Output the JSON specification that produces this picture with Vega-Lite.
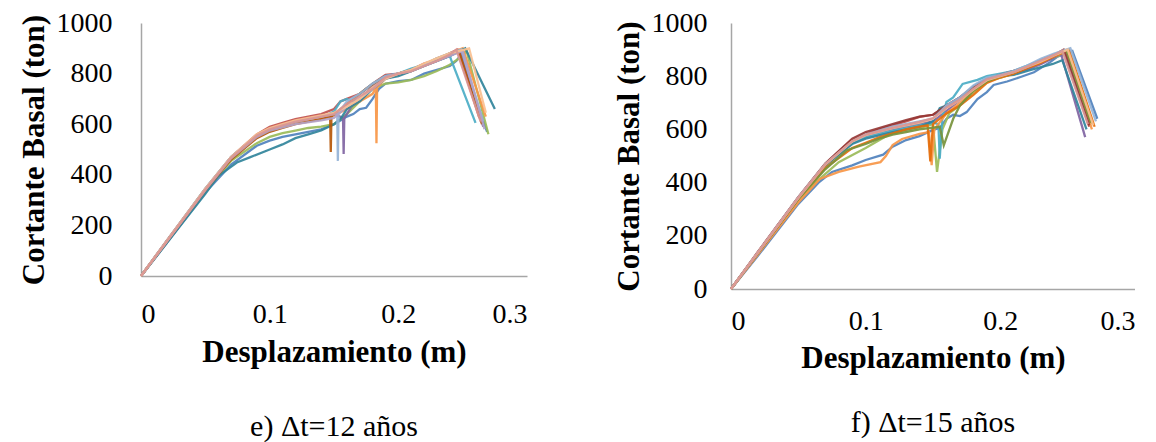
{
"$schema": "https://vega.github.io/schema/vega-lite/v6.json",
"padding": {"left": 17, "top": 9, "right": 0, "bottom": 0},
"background": "white",
"config": {
  "font": "Liberation Serif",
  "view": {"stroke": null},
  "axis": {"grid": false, "ticks": false, "domainColor": "#A6A6A6", "domainWidth": 1.5, "labelFont": "Liberation Serif", "labelFontSize": 28, "labelColor": "#000000", "titleFont": "Liberation Serif", "titleFontSize": 31, "titleFontWeight": "bold", "titleColor": "#000000"},
  "line": {"strokeWidth": 2.3, "opacity": 0.92},
  "concat": {"spacing": 85}
},
"resolve": {"scale": {"color": "independent"}},
"datasets": {
"e": [
{"s":"01","x":0,"y":0},{"s":"01","x":0.02,"y":130},{"s":"01","x":0.05,"y":330},{"s":"01","x":0.07,"y":440},{"s":"01","x":0.09,"y":515},{"s":"01","x":0.1,"y":535},{"s":"01","x":0.11,"y":550},{"s":"01","x":0.12,"y":560},{"s":"01","x":0.13,"y":570},{"s":"01","x":0.14,"y":580},{"s":"01","x":0.15,"y":600},{"s":"01","x":0.155,"y":615},{"s":"01","x":0.16,"y":630},{"s":"01","x":0.165,"y":640},{"s":"01","x":0.17,"y":660},{"s":"01","x":0.175,"y":665},{"s":"01","x":0.18,"y":700},{"s":"01","x":0.185,"y":740},{"s":"01","x":0.19,"y":760},{"s":"01","x":0.2,"y":770},{"s":"01","x":0.21,"y":775},{"s":"01","x":0.22,"y":800},{"s":"01","x":0.23,"y":815},{"s":"01","x":0.24,"y":830},{"s":"01","x":0.245,"y":850},{"s":"01","x":0.248,"y":870},{"s":"01","x":0.269,"y":570},
{"s":"02","x":0,"y":0},{"s":"02","x":0.02,"y":140},{"s":"02","x":0.05,"y":345},{"s":"02","x":0.07,"y":470},{"s":"02","x":0.09,"y":560},{"s":"02","x":0.1,"y":590},{"s":"02","x":0.11,"y":605},{"s":"02","x":0.12,"y":620},{"s":"02","x":0.13,"y":630},{"s":"02","x":0.14,"y":640},{"s":"02","x":0.15,"y":660},{"s":"02","x":0.155,"y":690},{"s":"02","x":0.16,"y":700},{"s":"02","x":0.17,"y":720},{"s":"02","x":0.18,"y":760},{"s":"02","x":0.19,"y":795},{"s":"02","x":0.2,"y":800},{"s":"02","x":0.21,"y":815},{"s":"02","x":0.22,"y":840},{"s":"02","x":0.23,"y":855},{"s":"02","x":0.24,"y":880},{"s":"02","x":0.246,"y":895},{"s":"02","x":0.263,"y":625},
{"s":"03","x":0,"y":0},{"s":"03","x":0.05,"y":335},{"s":"03","x":0.07,"y":455},{"s":"03","x":0.09,"y":525},{"s":"03","x":0.1,"y":550},{"s":"03","x":0.11,"y":565},{"s":"03","x":0.12,"y":575},{"s":"03","x":0.13,"y":585},{"s":"03","x":0.14,"y":590},{"s":"03","x":0.15,"y":600},{"s":"03","x":0.16,"y":640},{"s":"03","x":0.17,"y":690},{"s":"03","x":0.18,"y":740},{"s":"03","x":0.19,"y":760},{"s":"03","x":0.2,"y":765},{"s":"03","x":0.21,"y":775},{"s":"03","x":0.22,"y":790},{"s":"03","x":0.23,"y":810},{"s":"03","x":0.24,"y":835},{"s":"03","x":0.25,"y":870},{"s":"03","x":0.253,"y":890},{"s":"03","x":0.27,"y":560},
{"s":"04","x":0,"y":0},{"s":"04","x":0.05,"y":340},{"s":"04","x":0.07,"y":465},{"s":"04","x":0.09,"y":555},{"s":"04","x":0.1,"y":580},{"s":"04","x":0.11,"y":595},{"s":"04","x":0.12,"y":610},{"s":"04","x":0.13,"y":620},{"s":"04","x":0.14,"y":630},{"s":"04","x":0.15,"y":640},{"s":"04","x":0.157,"y":625},{"s":"04","x":0.1575,"y":482},{"s":"04","x":0.158,"y":625},{"s":"04","x":0.165,"y":680},{"s":"04","x":0.17,"y":700},{"s":"04","x":0.18,"y":750},{"s":"04","x":0.19,"y":790},{"s":"04","x":0.2,"y":800},{"s":"04","x":0.21,"y":810},{"s":"04","x":0.22,"y":830},{"s":"04","x":0.23,"y":850},{"s":"04","x":0.24,"y":870},{"s":"04","x":0.248,"y":890},{"s":"04","x":0.266,"y":590},
{"s":"05","x":0,"y":0},{"s":"05","x":0.05,"y":345},{"s":"05","x":0.07,"y":470},{"s":"05","x":0.09,"y":555},{"s":"05","x":0.1,"y":575},{"s":"05","x":0.12,"y":605},{"s":"05","x":0.14,"y":625},{"s":"05","x":0.15,"y":650},{"s":"05","x":0.155,"y":690},{"s":"05","x":0.16,"y":700},{"s":"05","x":0.165,"y":690},{"s":"05","x":0.17,"y":720},{"s":"05","x":0.18,"y":760},{"s":"05","x":0.19,"y":790},{"s":"05","x":0.2,"y":800},{"s":"05","x":0.21,"y":820},{"s":"05","x":0.22,"y":835},{"s":"05","x":0.23,"y":860},{"s":"05","x":0.24,"y":870},{"s":"05","x":0.241,"y":855},{"s":"05","x":0.26,"y":605},
{"s":"06","x":0,"y":0},{"s":"06","x":0.05,"y":340},{"s":"06","x":0.07,"y":465},{"s":"06","x":0.09,"y":550},{"s":"06","x":0.1,"y":575},{"s":"06","x":0.11,"y":590},{"s":"06","x":0.12,"y":605},{"s":"06","x":0.13,"y":615},{"s":"06","x":0.14,"y":625},{"s":"06","x":0.15,"y":635},{"s":"06","x":0.16,"y":660},{"s":"06","x":0.17,"y":690},{"s":"06","x":0.18,"y":720},{"s":"06","x":0.1825,"y":745},{"s":"06","x":0.183,"y":525},{"s":"06","x":0.1835,"y":745},{"s":"06","x":0.19,"y":780},{"s":"06","x":0.2,"y":795},{"s":"06","x":0.21,"y":810},{"s":"06","x":0.22,"y":835},{"s":"06","x":0.23,"y":860},{"s":"06","x":0.24,"y":880},{"s":"06","x":0.25,"y":900},{"s":"06","x":0.268,"y":630},
{"s":"07","x":0,"y":0},{"s":"07","x":0.02,"y":130},{"s":"07","x":0.05,"y":325},{"s":"07","x":0.06,"y":395},{"s":"07","x":0.075,"y":450},{"s":"07","x":0.085,"y":470},{"s":"07","x":0.1,"y":500},{"s":"07","x":0.11,"y":520},{"s":"07","x":0.12,"y":545},{"s":"07","x":0.13,"y":560},{"s":"07","x":0.14,"y":575},{"s":"07","x":0.15,"y":600},{"s":"07","x":0.155,"y":620},{"s":"07","x":0.16,"y":660},{"s":"07","x":0.17,"y":690},{"s":"07","x":0.18,"y":740},{"s":"07","x":0.19,"y":780},{"s":"07","x":0.2,"y":790},{"s":"07","x":0.21,"y":810},{"s":"07","x":0.22,"y":830},{"s":"07","x":0.23,"y":850},{"s":"07","x":0.24,"y":870},{"s":"07","x":0.252,"y":900},{"s":"07","x":0.275,"y":660},
{"s":"08","x":0,"y":0},{"s":"08","x":0.05,"y":340},{"s":"08","x":0.07,"y":460},{"s":"08","x":0.09,"y":545},{"s":"08","x":0.1,"y":570},{"s":"08","x":0.11,"y":585},{"s":"08","x":0.12,"y":600},{"s":"08","x":0.13,"y":610},{"s":"08","x":0.14,"y":620},{"s":"08","x":0.147,"y":630},{"s":"08","x":0.1475,"y":490},{"s":"08","x":0.148,"y":630},{"s":"08","x":0.155,"y":660},{"s":"08","x":0.165,"y":700},{"s":"08","x":0.175,"y":740},{"s":"08","x":0.185,"y":775},{"s":"08","x":0.2,"y":800},{"s":"08","x":0.21,"y":815},{"s":"08","x":0.22,"y":835},{"s":"08","x":0.23,"y":855},{"s":"08","x":0.24,"y":875},{"s":"08","x":0.247,"y":890},{"s":"08","x":0.265,"y":600},
{"s":"09","x":0,"y":0},{"s":"09","x":0.05,"y":345},{"s":"09","x":0.07,"y":470},{"s":"09","x":0.09,"y":555},{"s":"09","x":0.1,"y":580},{"s":"09","x":0.11,"y":595},{"s":"09","x":0.12,"y":610},{"s":"09","x":0.13,"y":620},{"s":"09","x":0.14,"y":630},{"s":"09","x":0.15,"y":640},{"s":"09","x":0.1525,"y":640},{"s":"09","x":0.153,"y":455},{"s":"09","x":0.1535,"y":645},{"s":"09","x":0.16,"y":690},{"s":"09","x":0.17,"y":720},{"s":"09","x":0.18,"y":760},{"s":"09","x":0.19,"y":790},{"s":"09","x":0.2,"y":800},{"s":"09","x":0.21,"y":815},{"s":"09","x":0.22,"y":835},{"s":"09","x":0.23,"y":860},{"s":"09","x":0.24,"y":880},{"s":"09","x":0.249,"y":895},{"s":"09","x":0.266,"y":610},
{"s":"10","x":0,"y":0},{"s":"10","x":0.05,"y":340},{"s":"10","x":0.07,"y":465},{"s":"10","x":0.09,"y":550},{"s":"10","x":0.1,"y":575},{"s":"10","x":0.12,"y":600},{"s":"10","x":0.14,"y":615},{"s":"10","x":0.15,"y":625},{"s":"10","x":0.16,"y":670},{"s":"10","x":0.17,"y":700},{"s":"10","x":0.18,"y":740},{"s":"10","x":0.19,"y":780},{"s":"10","x":0.2,"y":800},{"s":"10","x":0.21,"y":810},{"s":"10","x":0.22,"y":830},{"s":"10","x":0.23,"y":850},{"s":"10","x":0.24,"y":870},{"s":"10","x":0.25,"y":890},{"s":"10","x":0.267,"y":580},
{"s":"11","x":0,"y":0},{"s":"11","x":0.05,"y":345},{"s":"11","x":0.07,"y":470},{"s":"11","x":0.09,"y":560},{"s":"11","x":0.1,"y":585},{"s":"11","x":0.11,"y":600},{"s":"11","x":0.12,"y":615},{"s":"11","x":0.13,"y":625},{"s":"11","x":0.14,"y":635},{"s":"11","x":0.15,"y":645},{"s":"11","x":0.16,"y":670},{"s":"11","x":0.17,"y":700},{"s":"11","x":0.18,"y":745},{"s":"11","x":0.19,"y":780},{"s":"11","x":0.2,"y":800},{"s":"11","x":0.21,"y":815},{"s":"11","x":0.22,"y":840},{"s":"11","x":0.23,"y":860},{"s":"11","x":0.24,"y":880},{"s":"11","x":0.255,"y":900},{"s":"11","x":0.268,"y":645},
{"s":"12","x":0,"y":0},{"s":"12","x":0.05,"y":342},{"s":"12","x":0.07,"y":468},{"s":"12","x":0.09,"y":555},{"s":"12","x":0.1,"y":580},{"s":"12","x":0.11,"y":595},{"s":"12","x":0.12,"y":610},{"s":"12","x":0.13,"y":620},{"s":"12","x":0.14,"y":630},{"s":"12","x":0.15,"y":640},{"s":"12","x":0.16,"y":680},{"s":"12","x":0.17,"y":710},{"s":"12","x":0.18,"y":740},{"s":"12","x":0.19,"y":785},{"s":"12","x":0.2,"y":800},{"s":"12","x":0.21,"y":810},{"s":"12","x":0.22,"y":830},{"s":"12","x":0.23,"y":850},{"s":"12","x":0.24,"y":875},{"s":"12","x":0.245,"y":895},{"s":"12","x":0.264,"y":610}
],
"f": [
{"s":"01","x":0,"y":0},{"s":"01","x":0.02,"y":125},{"s":"01","x":0.05,"y":320},{"s":"01","x":0.065,"y":400},{"s":"01","x":0.075,"y":440},{"s":"01","x":0.09,"y":465},{"s":"01","x":0.1,"y":485},{"s":"01","x":0.113,"y":505},{"s":"01","x":0.12,"y":535},{"s":"01","x":0.13,"y":560},{"s":"01","x":0.14,"y":575},{"s":"01","x":0.15,"y":598},{"s":"01","x":0.155,"y":605},{"s":"01","x":0.16,"y":640},{"s":"01","x":0.165,"y":655},{"s":"01","x":0.17,"y":650},{"s":"01","x":0.175,"y":665},{"s":"01","x":0.183,"y":714},{"s":"01","x":0.19,"y":740},{"s":"01","x":0.195,"y":767},{"s":"01","x":0.205,"y":780},{"s":"01","x":0.215,"y":797},{"s":"01","x":0.225,"y":815},{"s":"01","x":0.237,"y":853},{"s":"01","x":0.242,"y":872},{"s":"01","x":0.2535,"y":895},{"s":"01","x":0.272,"y":640},
{"s":"02","x":0,"y":0},{"s":"02","x":0.02,"y":140},{"s":"02","x":0.05,"y":345},{"s":"02","x":0.07,"y":470},{"s":"02","x":0.088,"y":553},{"s":"02","x":0.1,"y":580},{"s":"02","x":0.11,"y":600},{"s":"02","x":0.12,"y":615},{"s":"02","x":0.13,"y":630},{"s":"02","x":0.14,"y":647},{"s":"02","x":0.15,"y":655},{"s":"02","x":0.155,"y":670},{"s":"02","x":0.16,"y":690},{"s":"02","x":0.17,"y":720},{"s":"02","x":0.18,"y":760},{"s":"02","x":0.19,"y":790},{"s":"02","x":0.2,"y":800},{"s":"02","x":0.21,"y":815},{"s":"02","x":0.22,"y":830},{"s":"02","x":0.23,"y":855},{"s":"02","x":0.24,"y":875},{"s":"02","x":0.248,"y":895},{"s":"02","x":0.266,"y":610},
{"s":"03","x":0,"y":0},{"s":"03","x":0.05,"y":335},{"s":"03","x":0.065,"y":410},{"s":"03","x":0.08,"y":477},{"s":"03","x":0.1,"y":530},{"s":"03","x":0.118,"y":583},{"s":"03","x":0.13,"y":595},{"s":"03","x":0.143,"y":609},{"s":"03","x":0.15,"y":620},{"s":"03","x":0.153,"y":440},{"s":"03","x":0.157,"y":600},{"s":"03","x":0.162,"y":660},{"s":"03","x":0.17,"y":690},{"s":"03","x":0.18,"y":740},{"s":"03","x":0.19,"y":780},{"s":"03","x":0.2,"y":795},{"s":"03","x":0.21,"y":810},{"s":"03","x":0.22,"y":830},{"s":"03","x":0.23,"y":850},{"s":"03","x":0.24,"y":870},{"s":"03","x":0.25,"y":890},{"s":"03","x":0.268,"y":620},
{"s":"04","x":0,"y":0},{"s":"04","x":0.05,"y":340},{"s":"04","x":0.07,"y":465},{"s":"04","x":0.09,"y":550},{"s":"04","x":0.1,"y":575},{"s":"04","x":0.11,"y":590},{"s":"04","x":0.12,"y":600},{"s":"04","x":0.13,"y":610},{"s":"04","x":0.14,"y":620},{"s":"04","x":0.15,"y":630},{"s":"04","x":0.16,"y":670},{"s":"04","x":0.17,"y":710},{"s":"04","x":0.18,"y":750},{"s":"04","x":0.19,"y":785},{"s":"04","x":0.2,"y":800},{"s":"04","x":0.21,"y":810},{"s":"04","x":0.22,"y":825},{"s":"04","x":0.23,"y":845},{"s":"04","x":0.24,"y":870},{"s":"04","x":0.245,"y":885},{"s":"04","x":0.263,"y":571},
{"s":"05","x":0,"y":0},{"s":"05","x":0.05,"y":340},{"s":"05","x":0.07,"y":465},{"s":"05","x":0.09,"y":550},{"s":"05","x":0.1,"y":570},{"s":"05","x":0.12,"y":595},{"s":"05","x":0.14,"y":615},{"s":"05","x":0.15,"y":625},{"s":"05","x":0.154,"y":620},{"s":"05","x":0.155,"y":490},{"s":"05","x":0.157,"y":650},{"s":"05","x":0.16,"y":703},{"s":"05","x":0.165,"y":720},{"s":"05","x":0.172,"y":771},{"s":"05","x":0.183,"y":786},{"s":"05","x":0.19,"y":800},{"s":"05","x":0.2,"y":810},{"s":"05","x":0.21,"y":820},{"s":"05","x":0.22,"y":840},{"s":"05","x":0.23,"y":860},{"s":"05","x":0.24,"y":880},{"s":"05","x":0.247,"y":893},{"s":"05","x":0.265,"y":630},
{"s":"06","x":0,"y":0},{"s":"06","x":0.02,"y":130},{"s":"06","x":0.05,"y":325},{"s":"06","x":0.066,"y":414},{"s":"06","x":0.08,"y":440},{"s":"06","x":0.095,"y":460},{"s":"06","x":0.111,"y":477},{"s":"06","x":0.115,"y":500},{"s":"06","x":0.12,"y":541},{"s":"06","x":0.127,"y":564},{"s":"06","x":0.14,"y":583},{"s":"06","x":0.147,"y":590},{"s":"06","x":0.149,"y":466},{"s":"06","x":0.151,"y":600},{"s":"06","x":0.16,"y":660},{"s":"06","x":0.17,"y":700},{"s":"06","x":0.18,"y":745},{"s":"06","x":0.19,"y":780},{"s":"06","x":0.2,"y":800},{"s":"06","x":0.21,"y":815},{"s":"06","x":0.22,"y":835},{"s":"06","x":0.23,"y":855},{"s":"06","x":0.24,"y":875},{"s":"06","x":0.25,"y":895},{"s":"06","x":0.268,"y":600},
{"s":"07","x":0,"y":0},{"s":"07","x":0.05,"y":340},{"s":"07","x":0.07,"y":465},{"s":"07","x":0.09,"y":545},{"s":"07","x":0.1,"y":565},{"s":"07","x":0.12,"y":590},{"s":"07","x":0.14,"y":610},{"s":"07","x":0.15,"y":630},{"s":"07","x":0.155,"y":680},{"s":"07","x":0.165,"y":700},{"s":"07","x":0.18,"y":760},{"s":"07","x":0.19,"y":790},{"s":"07","x":0.2,"y":800},{"s":"07","x":0.21,"y":805},{"s":"07","x":0.222,"y":823},{"s":"07","x":0.239,"y":846},{"s":"07","x":0.246,"y":860},{"s":"07","x":0.264,"y":600},
{"s":"08","x":0,"y":0},{"s":"08","x":0.05,"y":338},{"s":"08","x":0.07,"y":455},{"s":"08","x":0.09,"y":530},{"s":"08","x":0.1,"y":550},{"s":"08","x":0.11,"y":570},{"s":"08","x":0.12,"y":585},{"s":"08","x":0.13,"y":600},{"s":"08","x":0.14,"y":610},{"s":"08","x":0.146,"y":615},{"s":"08","x":0.148,"y":480},{"s":"08","x":0.15,"y":620},{"s":"08","x":0.16,"y":660},{"s":"08","x":0.17,"y":690},{"s":"08","x":0.18,"y":730},{"s":"08","x":0.19,"y":775},{"s":"08","x":0.2,"y":795},{"s":"08","x":0.21,"y":810},{"s":"08","x":0.22,"y":830},{"s":"08","x":0.23,"y":850},{"s":"08","x":0.24,"y":875},{"s":"08","x":0.251,"y":900},{"s":"08","x":0.27,"y":610},
{"s":"09","x":0,"y":0},{"s":"09","x":0.05,"y":338},{"s":"09","x":0.07,"y":450},{"s":"09","x":0.086,"y":522},{"s":"09","x":0.1,"y":545},{"s":"09","x":0.11,"y":565},{"s":"09","x":0.12,"y":580},{"s":"09","x":0.13,"y":590},{"s":"09","x":0.14,"y":600},{"s":"09","x":0.155,"y":610},{"s":"09","x":0.158,"y":540},{"s":"09","x":0.165,"y":640},{"s":"09","x":0.17,"y":690},{"s":"09","x":0.18,"y":745},{"s":"09","x":0.19,"y":780},{"s":"09","x":0.2,"y":800},{"s":"09","x":0.21,"y":815},{"s":"09","x":0.22,"y":835},{"s":"09","x":0.23,"y":860},{"s":"09","x":0.24,"y":880},{"s":"09","x":0.249,"y":897},{"s":"09","x":0.267,"y":625},
{"s":"10","x":0,"y":0},{"s":"10","x":0.05,"y":345},{"s":"10","x":0.07,"y":472},{"s":"10","x":0.09,"y":565},{"s":"10","x":0.1,"y":590},{"s":"10","x":0.11,"y":605},{"s":"10","x":0.12,"y":620},{"s":"10","x":0.13,"y":635},{"s":"10","x":0.14,"y":648},{"s":"10","x":0.15,"y":655},{"s":"10","x":0.16,"y":690},{"s":"10","x":0.17,"y":720},{"s":"10","x":0.18,"y":760},{"s":"10","x":0.19,"y":790},{"s":"10","x":0.2,"y":805},{"s":"10","x":0.21,"y":820},{"s":"10","x":0.22,"y":835},{"s":"10","x":0.23,"y":860},{"s":"10","x":0.24,"y":880},{"s":"10","x":0.247,"y":900},{"s":"10","x":0.266,"y":615},
{"s":"11","x":0,"y":0},{"s":"11","x":0.05,"y":345},{"s":"11","x":0.07,"y":470},{"s":"11","x":0.09,"y":555},{"s":"11","x":0.1,"y":580},{"s":"11","x":0.12,"y":610},{"s":"11","x":0.14,"y":630},{"s":"11","x":0.15,"y":640},{"s":"11","x":0.16,"y":690},{"s":"11","x":0.17,"y":720},{"s":"11","x":0.18,"y":765},{"s":"11","x":0.19,"y":795},{"s":"11","x":0.2,"y":805},{"s":"11","x":0.21,"y":820},{"s":"11","x":0.22,"y":840},{"s":"11","x":0.23,"y":865},{"s":"11","x":0.24,"y":885},{"s":"11","x":0.252,"y":905},{"s":"11","x":0.271,"y":630},
{"s":"12","x":0,"y":0},{"s":"12","x":0.05,"y":342},{"s":"12","x":0.07,"y":468},{"s":"12","x":0.09,"y":555},{"s":"12","x":0.1,"y":578},{"s":"12","x":0.12,"y":605},{"s":"12","x":0.14,"y":625},{"s":"12","x":0.15,"y":640},{"s":"12","x":0.16,"y":680},{"s":"12","x":0.17,"y":710},{"s":"12","x":0.18,"y":750},{"s":"12","x":0.19,"y":785},{"s":"12","x":0.2,"y":800},{"s":"12","x":0.21,"y":815},{"s":"12","x":0.22,"y":835},{"s":"12","x":0.23,"y":855},{"s":"12","x":0.24,"y":878},{"s":"12","x":0.25,"y":900},{"s":"12","x":0.269,"y":615},
{"s":"13","x":0,"y":0},{"s":"13","x":0.05,"y":343},{"s":"13","x":0.07,"y":469},{"s":"13","x":0.09,"y":556},{"s":"13","x":0.1,"y":580},{"s":"13","x":0.12,"y":606},{"s":"13","x":0.14,"y":628},{"s":"13","x":0.15,"y":642},{"s":"13","x":0.16,"y":682},{"s":"13","x":0.17,"y":712},{"s":"13","x":0.18,"y":752},{"s":"13","x":0.19,"y":788},{"s":"13","x":0.2,"y":802},{"s":"13","x":0.21,"y":815},{"s":"13","x":0.22,"y":836},{"s":"13","x":0.23,"y":858},{"s":"13","x":0.24,"y":880},{"s":"13","x":0.246,"y":895},{"s":"13","x":0.265,"y":620}
]
},
"hconcat": [
{
  "data": {"name": "e"},
  "width": 386,
  "height": 253,
  "title": {"text": "e) Δt=12 años", "orient": "bottom", "anchor": "middle", "font": "Liberation Serif", "fontSize": 30, "fontWeight": "normal", "color": "#000000", "offset": 45},
  "mark": {"type": "line"},
  "encoding": {
    "x": {"field": "x", "type": "quantitative", "scale": {"domain": [0, 0.3], "nice": false}, "axis": {"values": [0, 0.1, 0.2, 0.3], "format": "~g", "title": "Desplazamiento (m)", "labelPadding": 24, "titlePadding": 9}},
    "y": {"field": "y", "type": "quantitative", "scale": {"domain": [0, 1000], "nice": false}, "axis": {"values": [0, 200, 400, 600, 800, 1000], "format": "d", "title": "Cortante Basal (ton)", "labelPadding": 29, "titlePadding": 6}},
    "color": {"field": "s", "type": "nominal", "legend": null, "scale": {"domain": ["01","02","03","04","05","06","07","08","09","10","11","12"], "range": ["#4F81BD","#C0504D","#9BBB59","#8064A2","#4BACC6","#F79646","#31849B","#B65708","#95B3D7","#B3A2C7","#FAC090","#D99694"]}}
  }
},
{
  "data": {"name": "f"},
  "width": 404,
  "height": 266,
  "title": {"text": "f) Δt=15 años", "orient": "bottom", "anchor": "middle", "font": "Liberation Serif", "fontSize": 30, "fontWeight": "normal", "color": "#000000", "offset": 35},
  "mark": {"type": "line"},
  "encoding": {
    "x": {"field": "x", "type": "quantitative", "scale": {"domain": [0, 0.3], "nice": false}, "axis": {"values": [0, 0.1, 0.2, 0.3], "format": "~g", "title": "Desplazamiento (m)", "labelPadding": 18, "titlePadding": 8}},
    "y": {"field": "y", "type": "quantitative", "scale": {"domain": [0, 1000], "nice": false}, "axis": {"values": [0, 200, 400, 600, 800, 1000], "format": "d", "title": "Cortante Basal (ton)", "labelPadding": 24, "titlePadding": 6}},
    "color": {"field": "s", "type": "nominal", "legend": null, "scale": {"domain": ["01","02","03","04","05","06","07","08","09","10","11","12","13"], "range": ["#4F81BD","#C0504D","#9BBB59","#8064A2","#4BACC6","#F79646","#31849B","#E46C0A","#77933C","#953735","#95B3D7","#FAC090","#D99694"]}}
  }
}
]
}
